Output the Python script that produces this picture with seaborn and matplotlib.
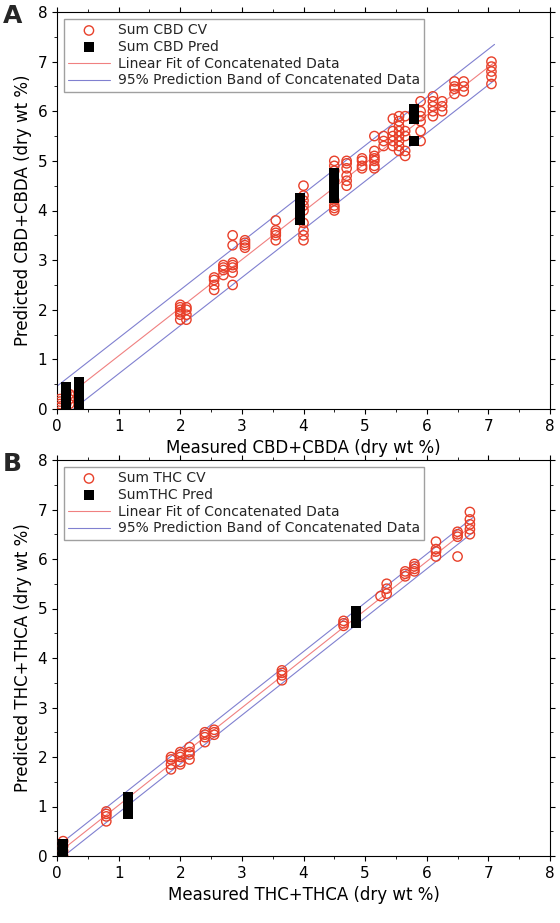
import matplotlib
matplotlib.use("Agg")
import matplotlib.pyplot as plt
import seaborn as sns
import numpy as np
import pandas as pd

sns.set_style("ticks")
plt.rcParams['font.family'] = ['DejaVu Sans']

# Panel A: CV clusters {measured: [predicted,...]}
cbd_cv = {0.05:[0.05,0.1,0.15,0.2],0.15:[0.1,0.2,0.3,0.35],0.2:[0.1,0.2,0.3],
 2.0:[1.8,1.9,1.95,2.0,2.05,2.1],2.1:[1.8,1.9,2.0,2.05],2.55:[2.4,2.5,2.6,2.65],
 2.7:[2.7,2.8,2.85,2.9],2.85:[2.5,2.75,2.85,2.9,2.95,3.3,3.5],3.05:[3.25,3.3,3.35,3.4],
 3.55:[3.4,3.5,3.55,3.6,3.8],4.0:[3.4,3.5,3.6,3.75,4.0,4.1,4.2,4.3,4.5],
 4.5:[4.0,4.05,4.1,4.2,4.6,4.8,4.9,5.0],4.7:[4.5,4.6,4.7,4.85,4.95,5.0],
 4.95:[4.85,4.9,5.0,5.05],5.15:[4.85,4.9,5.0,5.05,5.1,5.2,5.5],5.3:[5.3,5.4,5.5],
 5.45:[5.3,5.4,5.5,5.6,5.85],5.55:[5.2,5.3,5.4,5.5,5.6,5.7,5.8,5.9],
 5.65:[5.1,5.2,5.5,5.6,5.9],5.9:[5.4,5.6,5.8,5.9,6.0,6.2],6.1:[5.9,6.0,6.1,6.2,6.3],
 6.25:[6.0,6.1,6.2],6.45:[6.35,6.45,6.5,6.6],6.6:[6.4,6.5,6.6],7.05:[6.55,6.7,6.8,6.9,7.0]}
cbd_pred = {0.15:[0.1,0.2,0.3,0.4,0.45],0.35:[0.1,0.2,0.3,0.4,0.5,0.55],
 3.95:[3.8,3.9,4.0,4.2,4.25],4.5:[4.25,4.35,4.45,4.55,4.65,4.75],5.8:[5.4,5.85,5.95,6.05]}
# Panel B
thc_cv = {0.1:[0.0,0.1,0.2,0.3],0.8:[0.7,0.8,0.85,0.9],1.85:[1.75,1.85,1.95,2.0],
 2.0:[1.85,1.9,2.0,2.05,2.1],2.15:[1.95,2.05,2.1,2.2],2.4:[2.3,2.4,2.45,2.5],
 2.55:[2.45,2.5,2.55],3.65:[3.55,3.65,3.7,3.75],4.65:[4.65,4.7,4.75],5.25:[5.25],
 5.35:[5.3,5.4,5.5],5.65:[5.65,5.7,5.75],5.8:[5.75,5.8,5.85,5.9],
 6.15:[6.05,6.15,6.2,6.35],6.5:[6.05,6.45,6.5,6.55],6.7:[6.5,6.6,6.7,6.8,6.95]}
thc_pred = {0.1:[0.05,0.1,0.15,0.2,0.25],1.15:[0.85,0.95,1.05,1.15,1.2],4.85:[4.7,4.8,4.9,4.95]}
fitA = (0.97, 0.1, 0.36)   # slope, intercept, band half-width
fitB = (0.985, 0.04, 0.15)

def df(d):
    xs, ys = [], []
    for k, v in d.items():
        xs += [k]*len(v); ys += v
    return pd.DataFrame({'x': xs, 'y': ys})

fig = plt.figure(figsize=(5.6, 9.23), dpi=100)
axA = fig.add_axes([57/560, 1-409/923, 493/560, 397/923])
axB = fig.add_axes([57/560, 1-856/923, 493/560, 396/923])

def panel(ax, cv, pred, fit, labs, xlabel, ylabel, xfit_max):
    xf = np.linspace(0, xfit_max, 50)
    m, b, w = fit
    sns.scatterplot(data=df(cv), x='x', y='y', ax=ax, marker='o', s=45,
                    facecolor='none', edgecolor='#e8402a', linewidth=1.0, label=labs[0], zorder=3)
    sns.scatterplot(data=df(pred), x='x', y='y', ax=ax, marker='s', s=45,
                    color='black', linewidth=0, label=labs[1], zorder=4)
    ax.plot(xf, m*xf+b, color='#f08080', lw=0.8, label='Linear Fit of Concatenated Data')
    ax.plot(xf, m*xf+b+w, color='#8080d0', lw=0.8, label='95% Prediction Band of Concatenated Data')
    ax.plot(xf, m*xf+b-w, color='#8080d0', lw=0.8)
    ax.set_xlim(0, 8); ax.set_ylim(0, 8)
    ax.set_xticks(range(9)); ax.set_yticks(range(9))
    ax.set_xticks(np.arange(0, 8, 0.5), minor=True); ax.set_yticks(np.arange(0, 8, 0.5), minor=True)
    ax.tick_params(which='both', top=True, right=True, direction='out', labelsize=11,
                   color='black', labelcolor='black')
    for sp in ax.spines.values():
        sp.set_color('black')
    ax.set_xlabel(xlabel, fontsize=12, color='black'); ax.set_ylabel(ylabel, fontsize=12, color='black')
    ax.legend(loc='upper left', fontsize=10, frameon=True, fancybox=False, handlelength=3,
              edgecolor='#888888', borderpad=0.3, labelspacing=0.2, handletextpad=0.6)

panel(axA, cbd_cv, cbd_pred, fitA, ['Sum CBD CV', 'Sum CBD Pred'],
      'Measured CBD+CBDA (dry wt %)', 'Predicted CBD+CBDA (dry wt %)', 7.1)
panel(axB, thc_cv, thc_pred, fitB, ['Sum THC CV', 'SumTHC Pred'],
      'Measured THC+THCA (dry wt %)', 'Predicted THC+THCA (dry wt %)', 6.75)
fig.text(0.005, 0.975, 'A', fontsize=18, fontweight='bold')
fig.text(0.005, 0.49, 'B', fontsize=18, fontweight='bold')
fig.savefig('out.png', dpi=100)
